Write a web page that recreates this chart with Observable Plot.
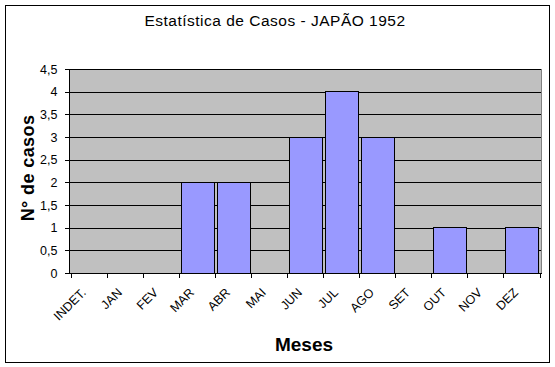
<!DOCTYPE html>
<html>
<head>
<meta charset="utf-8">
<script src="https://cdn.jsdelivr.net/npm/d3@7"></script>
<script src="https://cdn.jsdelivr.net/npm/@observablehq/plot@0.6"></script>
<style>
  html, body { margin: 0; padding: 0; background: #fff; }
  #wrap { position: relative; width: 555px; height: 367px; font-family: "Liberation Sans", Arial, sans-serif; color: #000; }
  #border { position: absolute; left: 5px; top: 5px; width: 543px; height: 356px; border: 1.5px solid #000; box-sizing: content-box; }
  #title { position: absolute; left: 275px; top: 21px; transform: translate(-50%, -50%); font-size: 15.5px; letter-spacing: 0.5px; white-space: nowrap; }
  #ylab { position: absolute; left: 28px; top: 168px; transform: translate(-50%, -50%) rotate(-90deg); font-size: 18px; letter-spacing: 0.4px; font-weight: bold; white-space: nowrap; }
  #xlab { position: absolute; left: 304px; top: 345px; transform: translate(-50%, -50%); font-size: 19px; font-weight: bold; white-space: nowrap; }
  #chart { position: absolute; left: 0; top: 0; }
  #chart svg line, #chart svg rect, #chart svg path { shape-rendering: crispEdges; }
</style>
</head>
<body>
<div id="wrap">
  <div id="border"></div>
  <div id="chart"></div>
  <div id="title">Estatística de Casos - JAPÃO 1952</div>
  <div id="ylab">N° de casos</div>
  <div id="xlab">Meses</div>
</div>
<script>
const categories = ["INDET.", "JAN", "FEV", "MAR", "ABR", "MAI", "JUN", "JUL", "AGO", "SET", "OUT", "NOV", "DEZ"];
const casos = [0, 0, 0, 2, 2, 0, 3, 4, 3, 0, 1, 0, 1];
const yTicks = [0, 0.5, 1, 1.5, 2, 2.5, 3, 3.5, 4, 4.5];

const data = categories.map((c, i) => ({mes: c, casos: casos[i]}));

const W = 555, H = 367, mL = 69, mR = 14, mT = 69, mB = 94;
const step = (W - mL - mR) / categories.length;

const plot = Plot.plot({
  width: W,
  height: H,
  marginLeft: mL,
  marginRight: mR,
  marginTop: mT,
  marginBottom: mB,
  style: {fontFamily: "'Liberation Sans', Arial, sans-serif", fontSize: "12px", background: "transparent", overflow: "visible", color: "#000"},
  x: {domain: categories, paddingInner: 0.09, paddingOuter: 0.045, label: null},
  y: {domain: [0, 4.5], label: null},
  marks: [
    Plot.frame({fill: "#C0C0C0", stroke: "#808080"}),
    Plot.ruleY(yTicks, {stroke: "#000", strokeWidth: 1}),
    Plot.barY(data, {x: "mes", y: "casos", fill: "#9999FF", stroke: "#000", strokeWidth: 1}),
    Plot.frame({anchor: "left", stroke: "#000"}),
    Plot.frame({anchor: "bottom", stroke: "#000"}),
    Plot.axisY({ticks: yTicks, tickSize: 4, tickPadding: 8, tickFormat: d => String(d).replace(".", ","), label: null, stroke: "#000", fontSize: 12.5}),
    Plot.ruleX(categories, {x: d => d, dx: -step / 2, y1: 0, y2: -0.1, stroke: "#000", clip: false}),
    Plot.ruleX(categories.slice(-1), {x: d => d, dx: step / 2, y1: 0, y2: -0.1, stroke: "#000", clip: false}),
    Plot.axisX({tickSize: 0, tickPadding: 17, dx: -6, tickRotate: -45, label: null, fontSize: 12.5})
  ]
});
document.getElementById("chart").appendChild(plot);
</script>
</body>
</html>
